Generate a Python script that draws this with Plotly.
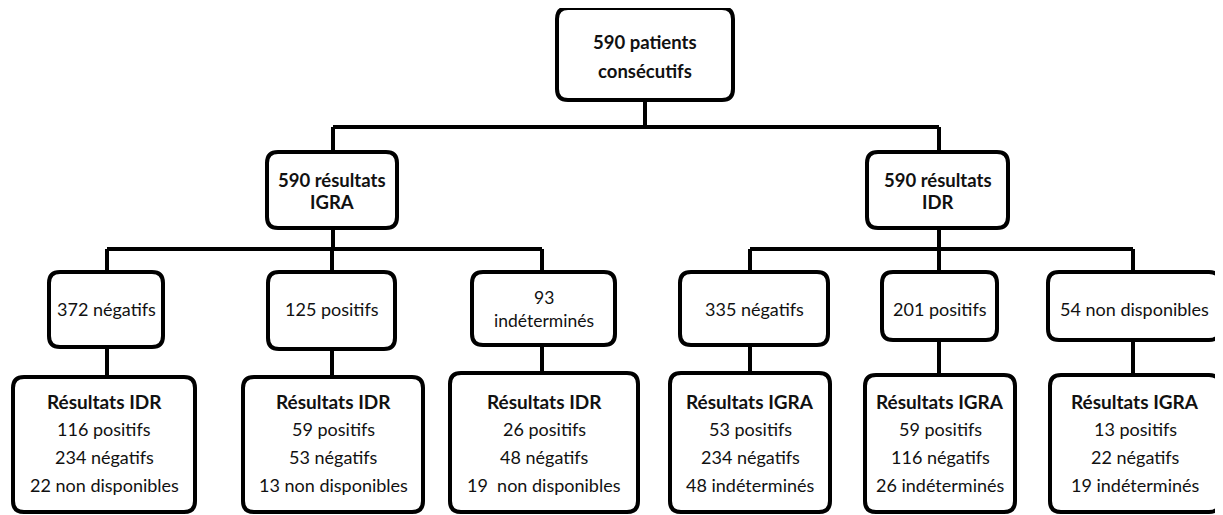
import plotly.graph_objects as go

# ---- data (labels of the flow chart) ----
top_label = ["590 patients", "consécutifs"]
test_labels = [["590 résultats", "IGRA"], ["590 résultats", "IDR"]]
result_labels = [["372 négatifs"], ["125 positifs"], ["93", "indéterminés"],
                 ["335 négatifs"], ["201 positifs"], ["54 non disponibles"]]
cross_titles = ["Résultats IDR", "Résultats IDR", "Résultats IDR",
                "Résultats IGRA", "Résultats IGRA", "Résultats IGRA"]
cross_pos = [116, 59, 26, 53, 59, 13]
cross_neg = [234, 53, 48, 234, 116, 22]
cross_other = [22, 13, 19, 48, 26, 19]
other_names = ["non disponibles", "non disponibles", " non disponibles",
               "indéterminés", "indéterminés", "indéterminés"]

# ---- layout geometry (pixels of the page) ----
W, H = 1223, 515
OFF = 8  # default page margin around the plot div
FONT = "Lato, 'Open Sans', sans-serif"
LW = 4
top_box = (557, 733, 8, 100)
test_boxes = [(267, 397, 152, 228), (867, 1008, 152, 228)]
result_boxes = [(49, 163, 272, 347), (268, 395, 272, 349), (472, 615, 272, 345),
                (680, 828, 272, 345), (882, 997, 272, 340), (1048, 1220, 272, 340)]
cross_boxes = [(13, 195, 377, 512), (243, 423, 377, 512), (450, 638, 373, 512),
               (670, 830, 373, 512), (865, 1015, 375, 512), (1050, 1220, 375, 512)]
bar1_y = 127
bar2_y = 249

shapes = []
annotations = []


def rbox(x0, x1, y0, y1, r=11):
    p = (f"M {x0+r},{y0} L {x1-r},{y0} Q {x1},{y0} {x1},{y0+r} "
         f"L {x1},{y1-r} Q {x1},{y1} {x1-r},{y1} L {x0+r},{y1} "
         f"Q {x0},{y1} {x0},{y1-r} L {x0},{y0+r} Q {x0},{y0} {x0+r},{y0} Z")
    shapes.append(dict(type="path", path=p, xref="x", yref="y",
                       line=dict(color="black", width=LW), fillcolor="white", layer="above"))


def seg(x0, y0, x1, y1):
    shapes.append(dict(type="line", x0=x0, y0=y0, x1=x1, y1=y1, xref="x", yref="y",
                       line=dict(color="black", width=LW), layer="below"))


def txt(x, y, s, size=18, bold=False):
    annotations.append(dict(x=x, y=y, xref="x", yref="y", text=(f"<b>{s}</b>" if bold else s),
                            showarrow=False, xanchor="center", yanchor="middle",
                            font=dict(family=FONT, size=size, color="#111111")))


def cx(b):
    return (b[0] + b[1]) / 2


# connectors
seg(645, top_box[3], 645, bar1_y)
seg(333, bar1_y, 939, bar1_y)
for b, sx in zip(test_boxes, [333, 939]):
    seg(sx, bar1_y, sx, b[2])
    seg(sx, b[3], sx, bar2_y)
stems3 = [107, 332, 542, 750, 939, 1133]
seg(stems3[0], bar2_y, stems3[2], bar2_y)
seg(stems3[3], bar2_y, stems3[5], bar2_y)
for sx, rb, cb in zip(stems3, result_boxes, cross_boxes):
    seg(sx, bar2_y, sx, rb[2])
    seg(sx, rb[3], sx, cb[2])

# boxes
rbox(*top_box)
for b in test_boxes:
    rbox(*b)
for b in result_boxes:
    rbox(*b)
for b in cross_boxes:
    rbox(*b)

# texts
txt(645, 42, top_label[0], 18.5, True)
txt(645, 71, top_label[1], 18.5, True)
for b, lab in zip(test_boxes, test_labels):
    txt(cx(b), 180, lab[0], 18.5, True)
    txt(cx(b), 202, lab[1], 18.5, True)
for b, lab in zip(result_boxes, result_labels):
    if len(lab) == 1:
        txt(cx(b), 309, lab[0], 18)
    else:
        txt(cx(b), 297, lab[0], 17.5)
        txt(cx(b), 320, lab[1], 17.5)
for i, b in enumerate(cross_boxes):
    c = cx(b)
    txt(c, 401, cross_titles[i], 19, True)
    txt(c, 429, f"{cross_pos[i]} positifs", 18)
    txt(c, 457, f"{cross_neg[i]} négatifs", 18)
    txt(c, 485, f"{cross_other[i]} {other_names[i]}".replace("  ", "&nbsp; "), 18)

fig = go.Figure()
fig.update_layout(
    width=W - OFF, height=H - OFF, margin=dict(l=0, r=0, t=0, b=0),
    paper_bgcolor="white", plot_bgcolor="white",
    xaxis=dict(range=[OFF, W], visible=False, fixedrange=True),
    yaxis=dict(range=[H, OFF], visible=False, fixedrange=True),
    shapes=shapes, annotations=annotations, showlegend=False,
)
fig.write_html("out.html")
